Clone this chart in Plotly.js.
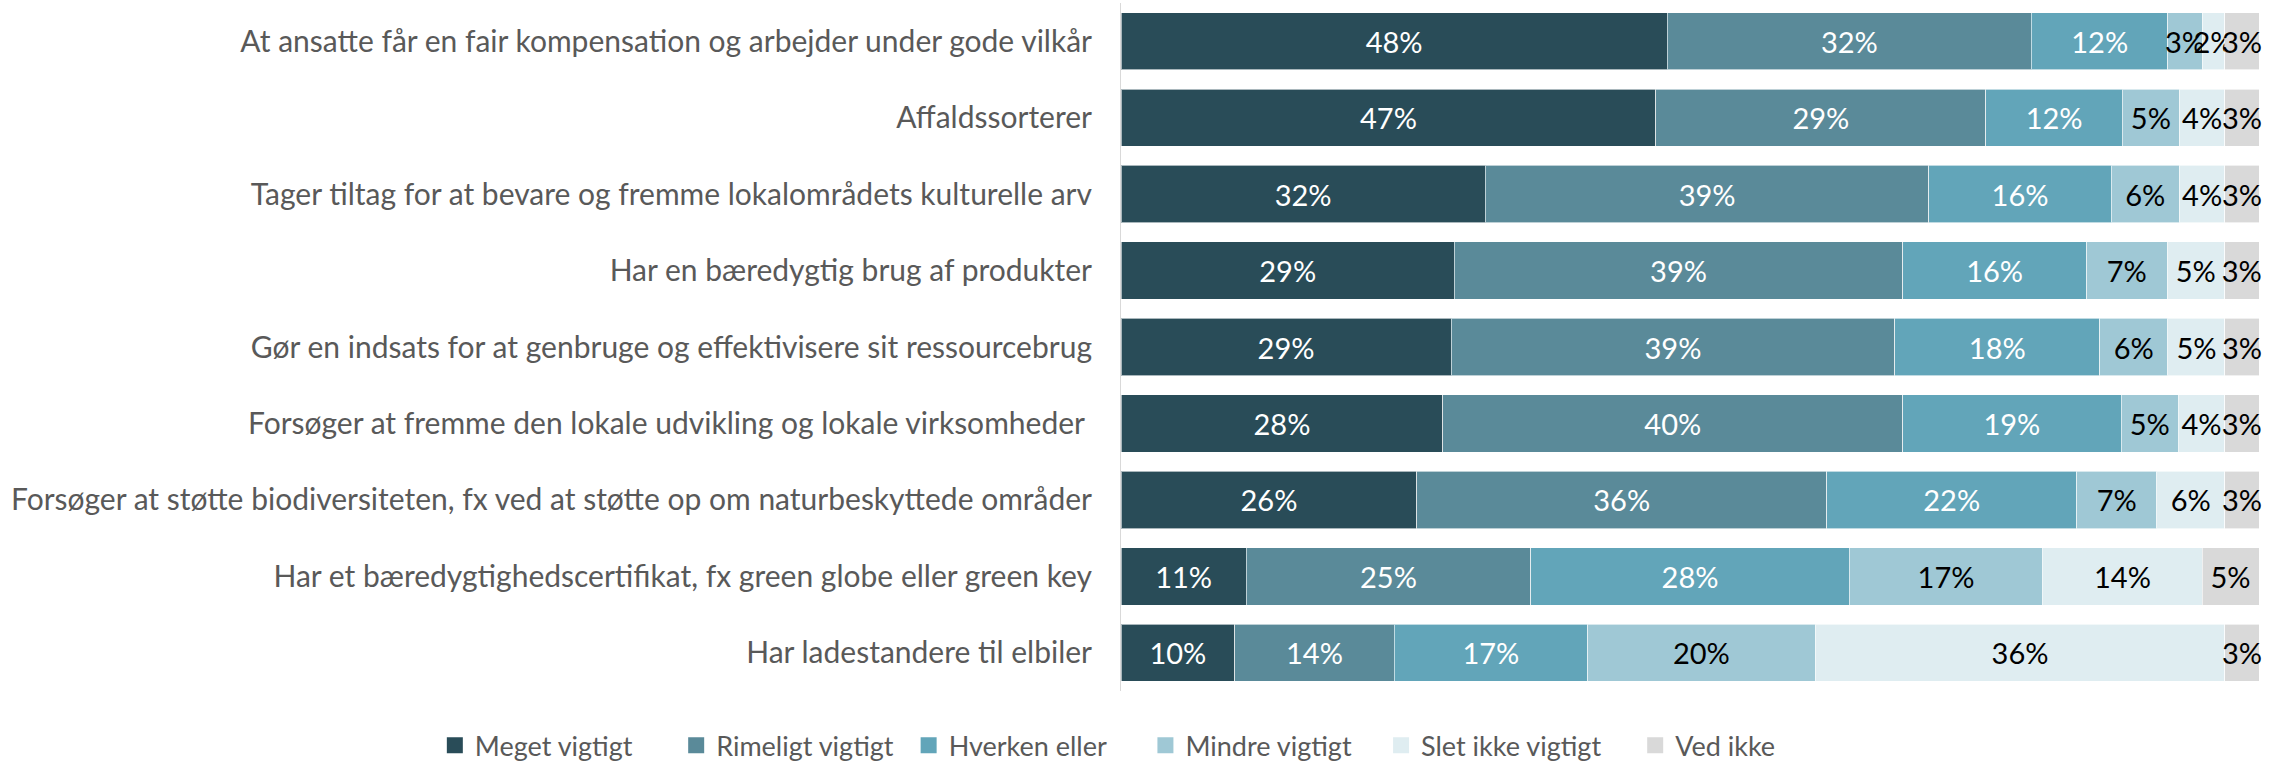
<!DOCTYPE html>
<html>
<head>
<meta charset="utf-8">
<script src="https://cdn.plot.ly/plotly-3.0.1.min.js"></script>
<style>html,body{margin:0;padding:0;background:#fff;}#chart{width:2279px;height:764px;}</style>
</head>
<body>
<div id="chart"></div>
<script>
const categories = [
  "At ansatte får en fair kompensation og arbejder under gode vilkår",
  "Affaldssorterer",
  "Tager tiltag for at bevare og fremme lokalområdets kulturelle arv",
  "Har en bæredygtig brug af produkter",
  "Gør en indsats for at genbruge og effektivisere sit ressourcebrug",
  "Forsøger at fremme den lokale udvikling og lokale virksomheder ",
  "Forsøger at støtte biodiversiteten, fx ved at støtte op om naturbeskyttede områder",
  "Har et bæredygtighedscertifikat, fx green globe eller green key",
  "Har ladestandere til elbiler"
];
const seriesNames = ["Meget vigtigt","Rimeligt vigtigt","Hverken eller","Mindre vigtigt","Slet ikke vigtigt","Ved ikke"];
const megetVigtigt   = [48, 47, 32, 29, 29, 28, 26, 11, 10];
const rimeligtVigtigt= [32, 29, 39, 39, 39, 40, 36, 25, 14];
const hverkenEller   = [12, 12, 16, 16, 18, 19, 22, 28, 17];
const mindreVigtigt  = [3, 5, 6, 7, 6, 5, 7, 17, 20];
const sletIkkeVigtigt= [2, 4, 4, 5, 5, 4, 6, 14, 36];
const vedIkke        = [3, 3, 3, 3, 3, 3, 3, 5, 3];

const seriesValues = [megetVigtigt, rimeligtVigtigt, hverkenEller, mindreVigtigt, sletIkkeVigtigt, vedIkke];
const colors = ["#294C58","#5A8A99","#62A5B9","#9FC8D5","#DFEDF1","#D9D9D9"];
const textColors = ["#FFFFFF","#FFFFFF","#FFFFFF","#000000","#000000","#000000"];
const legendIds = ["legend","legend2","legend3","legend4","legend5","legend6"];
const legendX = [0.1908, 0.2967, 0.3987, 0.5026, 0.6060, 0.7175];
const FONT = "Lato, 'Open Sans', sans-serif";

const barTraces = seriesValues.map((vals, i) => ({
  type: 'bar',
  orientation: 'h',
  name: seriesNames[i],
  legendgroup: 'g' + i,
  showlegend: false,
  y: categories,
  x: vals,
  text: vals.map(v => v + '%'),
  texttemplate: '%{text}',
  textposition: 'inside',
  insidetextanchor: 'middle',
  textangle: 0,
  constraintext: 'none',
  cliponaxis: false,
  insidetextfont: {family: FONT, size: 29, color: textColors[i]},
  marker: {color: colors[i], line: {color: 'rgba(255,255,255,0.6)', width: 1}},
  hoverinfo: 'name+x'
}));

// legend-only entries (square swatches)
const legendTraces = seriesNames.map((n, i) => ({
  type: 'scatter',
  mode: 'markers',
  name: n,
  legend: legendIds[i],
  legendgroup: 'g' + i,
  x: [null],
  y: [null],
  marker: {symbol: 'square', size: 16, color: colors[i]},
  hoverinfo: 'skip'
}));

function legendBox(xPos) {
  return {
    orientation: 'h',
    xref: 'container', yref: 'container',
    x: xPos, xanchor: 'left',
    y: 0.024, yanchor: 'middle',
    font: {family: FONT, size: 27, color: '#595959'},
    itemsizing: 'trace',
    bgcolor: 'rgba(0,0,0,0)'
  };
}

const layout = {
  width: 2279,
  height: 764,
  barmode: 'stack',
  barnorm: 'percent',
  bargap: 0.25,
  margin: {l: 1121, r: 20, t: 3, b: 73},
  paper_bgcolor: '#FFFFFF',
  plot_bgcolor: '#FFFFFF',
  font: {family: FONT, color: '#595959', size: 30},
  showlegend: true,
  xaxis: {
    range: [0, 100],
    showgrid: false,
    zeroline: false,
    showticklabels: false,
    showline: false,
    fixedrange: true
  },
  yaxis: {
    autorange: 'reversed',
    showgrid: false,
    zeroline: false,
    showline: true,
    linecolor: '#D9D9D9',
    linewidth: 1,
    ticks: '',
    ticklabelstandoff: 22,
    tickfont: {family: FONT, size: 30, color: '#595959'},
    fixedrange: true
  }
};
legendIds.forEach((id, i) => { layout[id] = legendBox(legendX[i]); });

Plotly.newPlot('chart', barTraces.concat(legendTraces), layout, {displayModeBar: false, staticPlot: true});
</script>
</body>
</html>
